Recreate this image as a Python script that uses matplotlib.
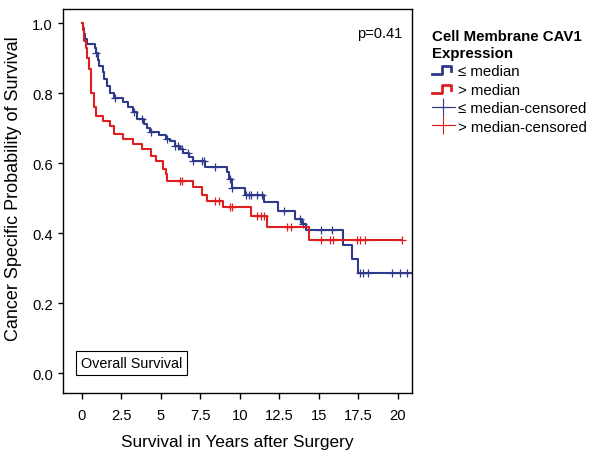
import numpy as np
import matplotlib
matplotlib.use('Agg')
import matplotlib.pyplot as plt
from matplotlib.lines import Line2D
from matplotlib.legend_handler import HandlerBase

plt.rcParams['font.family'] = ['Liberation Sans', 'DejaVu Sans']

# step curves: event time (years) and survival after it
low_times = [0.05, 0.12, 0.2, 0.3, 0.8, 0.9, 1.0, 1.1, 1.3, 1.4, 1.6, 1.75, 2.0, 2.6,
             2.9, 3.2, 3.5, 3.9, 4.1, 4.3, 4.9, 5.3, 5.6, 5.9, 6.2, 6.4, 6.8, 7.0,
             7.8, 9.2, 9.3, 9.5, 10.3, 11.5, 12.4, 13.5, 13.9, 14.2, 16.5, 17.1, 17.5]
low_surv = [0.985, 0.97, 0.955, 0.94, 0.93, 0.915, 0.895, 0.877, 0.86, 0.84, 0.82, 0.80,
            0.785, 0.775, 0.76, 0.745, 0.726, 0.712, 0.70, 0.69, 0.68, 0.67, 0.663, 0.65,
            0.64, 0.63, 0.618, 0.606, 0.59, 0.575, 0.555, 0.53, 0.51, 0.49, 0.463, 0.44,
            0.427, 0.41, 0.366, 0.326, 0.286]
low_end = 20.8
low_censored = [0.9, 2.1, 3.3, 3.8, 4.4, 5.4, 5.9, 6.1, 6.3, 6.7, 7.0, 7.6, 7.7, 8.4,
                9.4, 9.5, 10.4, 10.6, 10.7, 11.1, 11.4, 12.8, 13.8, 14.0, 15.1, 15.8,
                17.6, 17.8, 18.1, 19.6, 20.1, 20.6]

high_times = [0.05, 0.15, 0.25, 0.35, 0.45, 0.55, 0.6, 0.75, 0.9, 1.3, 1.8, 2.0, 2.6,
              3.2, 3.8, 4.4, 4.7, 5.1, 5.3, 5.4, 7.0, 7.6, 7.9, 8.9, 10.7, 11.7, 14.4]
high_surv = [0.98, 0.95, 0.93, 0.90, 0.87, 0.83, 0.80, 0.76, 0.735, 0.72, 0.706, 0.683,
             0.669, 0.654, 0.64, 0.62, 0.606, 0.583, 0.569, 0.549, 0.531, 0.51, 0.491,
             0.474, 0.449, 0.417, 0.38]
high_end = 20.25
high_censored = [6.2, 6.3, 8.4, 8.7, 9.4, 9.5, 11.1, 11.3, 11.5, 13.0, 13.2, 15.1, 15.7,
                 15.9, 17.4, 17.6, 17.9, 20.25]

x_ticks = [0, 2.5, 5, 7.5, 10, 12.5, 15, 17.5, 20]
x_tick_labels = ['0', '2.5', '5', '7.5', '10', '12.5', '15', '17.5', '20']
y_ticks = [0.0, 0.2, 0.4, 0.6, 0.8, 1.0]

blue = '#2f3a8a'
red = '#dd1f1f'


def surv_at(times, surv, t):
    idx = np.searchsorted(times, t, side='right')
    vals = np.concatenate([[1.0], surv])
    return vals[idx]


class StepHandler(HandlerBase):
    def create_artists(self, legend, orig_handle, xdescent, ydescent, width, height,
                       fontsize, trans):
        xs = np.array([0, 0.45, 0.45, 0.85, 0.85]) * width - xdescent
        ys = np.array([0.1, 0.1, 0.85, 0.85, 0.35]) * height - ydescent
        line = Line2D(xs, ys, color=orig_handle.get_color(), lw=2, transform=trans)
        return [line]


fig = plt.figure(figsize=(6, 4.6), dpi=100)
ax = fig.add_axes([0.105, 0.1435, 0.582, 0.8345])

for times, surv, end, cens, col in [(low_times, low_surv, low_end, low_censored, blue),
                                    (high_times, high_surv, high_end, high_censored, red)]:
    xs = np.concatenate([[0], times, [end]])
    ys = np.concatenate([[1.0], surv, [surv[-1]]])
    ax.step(xs, ys, where='post', color=col, lw=1.5)
    ax.plot(cens, surv_at(times, surv, cens), linestyle='none', marker='+',
            color=col, markersize=6, markeredgewidth=0.9)

ax.set_xlim(-1.2, 20.9)
ax.set_ylim(-0.057, 1.04)
ax.set_xticks(x_ticks)
ax.set_xticklabels(x_tick_labels)
ax.set_yticks(y_ticks)
ax.set_yticklabels(['%.1f' % v for v in y_ticks])
ax.tick_params(axis='x', direction='out', length=4.5, width=1, labelsize=10.6, pad=6)
ax.tick_params(axis='y', direction='out', length=3.8, width=1, labelsize=10.6, pad=3.5)
for sp in ax.spines.values():
    sp.set_linewidth(1)
ax.set_xlabel('Survival in Years after Surgery', fontsize=12.4, labelpad=9)
ax.set_ylabel('Cancer Specific Probability of Survival', fontsize=13)
ax.yaxis.set_label_coords(-0.117, 0.536)

ax.text(0.971, 0.955, 'p=0.41', transform=ax.transAxes, ha='right', va='top', fontsize=10.5)
ax.text(0.052, 0.079, 'Overall Survival', transform=ax.transAxes, ha='left', va='center',
        fontsize=10.4, bbox=dict(boxstyle='square,pad=0.35', fc='white', ec='black', lw=0.8))

handles = [Line2D([], [], color=blue), Line2D([], [], color=red),
           Line2D([], [], color=blue, marker='+', lw=0.8, markersize=13, markeredgewidth=0.8),
           Line2D([], [], color=red, marker='+', lw=0.8, markersize=13, markeredgewidth=0.8)]
labels = ['\u2264 median', '> median', '\u2264 median-censored', '> median-censored']
leg = fig.legend(handles, labels, loc='upper left', bbox_to_anchor=(0.71, 0.947),
                 frameon=False, fontsize=10.8, handlelength=1.5, handletextpad=0.2,
                 labelspacing=0.3, borderaxespad=0, alignment='left',
                 title='Cell Membrane CAV1\nExpression',
                 title_fontproperties={'weight': 'bold', 'size': 10.8},
                 handler_map={handles[0]: StepHandler(), handles[1]: StepHandler()})

fig.savefig('out.png', dpi=100)
